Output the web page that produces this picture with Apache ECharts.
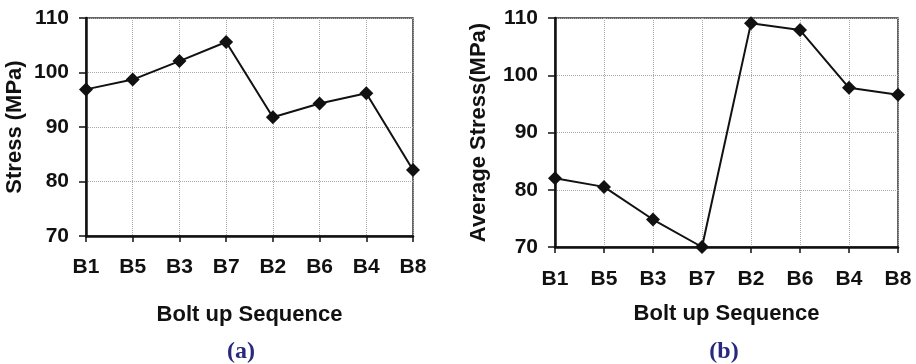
<!DOCTYPE html>
<html>
<head>
<meta charset="utf-8">
<script src="https://cdn.jsdelivr.net/npm/echarts@6/dist/echarts.min.js"></script>
<style>
  html, body { margin: 0; padding: 0; background: #fff; }
  #chart { width: 916px; height: 364px; }
</style>
</head>
<body>
<div id="chart"></div>
<script>
// bolt up order, same for both panels
const sequence = ["B1", "B5", "B3", "B7", "B2", "B6", "B4", "B8"];
// (a) stress per bolt
const stressA = [96.9, 98.7, 102.1, 105.6, 91.8, 94.3, 96.2, 82.1];
// (b) average stress
const stressB = [82.0, 80.5, 74.8, 70.0, 109.1, 107.9, 97.8, 96.6];
const yTicks = { min: 70, max: 110, interval: 10 };

const font = "'Liberation Sans', Arial, sans-serif";

function xAxisFor(gridIndex, labelGap, gap) {
  return {
    type: "category",
    gridIndex: gridIndex,
    data: sequence,
    boundaryGap: false,
    name: "Bolt up Sequence",
    nameLocation: "middle",
    nameGap: gap,
    nameTextStyle: { fontFamily: font, fontWeight: "bold", fontSize: 22, color: "#111" },
    axisLine: { lineStyle: { color: "#111", width: 2.5 } },
    axisTick: { show: true, length: 6, alignWithLabel: true, lineStyle: { color: "#111", width: 1.5 } },
    axisLabel: { margin: labelGap, fontFamily: font, fontWeight: "bold", fontSize: 21, color: "#111" },
    splitLine: { show: true, lineStyle: { color: "#aaa", type: "dotted", width: 1 } }
  };
}

function yAxisFor(gridIndex, title, gap) {
  return {
    type: "value",
    gridIndex: gridIndex,
    min: yTicks.min,
    max: yTicks.max,
    interval: yTicks.interval,
    name: title,
    nameLocation: "middle",
    nameGap: gap,
    nameTextStyle: { fontFamily: font, fontWeight: "bold", fontSize: 22, color: "#111" },
    axisLine: { show: true, lineStyle: { color: "#111", width: 2.5 } },
    axisTick: { show: true, length: 7, lineStyle: { color: "#111", width: 1.5 } },
    axisLabel: { margin: 17, fontFamily: font, fontWeight: "bold", fontSize: 21, color: "#111" },
    splitLine: { show: true, lineStyle: { color: "#aaa", type: "dotted", width: 1 } }
  };
}

function lineSeries(idx, values) {
  return {
    type: "line",
    xAxisIndex: idx,
    yAxisIndex: idx,
    data: values,
    symbol: "diamond",
    symbolSize: 14,
    itemStyle: { color: "#111" },
    lineStyle: { color: "#111", width: 2 },
    animation: false
  };
}

const chart = echarts.init(document.getElementById("chart"));
chart.setOption({
  backgroundColor: "#fff",
  animation: false,
  grid: [
    { left: 86, right: 503, top: 18, bottom: 128, show: true, borderColor: "#333", borderWidth: 1.5 },
    { left: 555, right: 18, top: 18, bottom: 117, show: true, borderColor: "#333", borderWidth: 1.5 }
  ],
  title: [
    { text: "(a)", left: 236, top: 335, textAlign: "center",
      textStyle: { fontFamily: "'Liberation Serif', 'Times New Roman', serif", fontWeight: "bold", fontSize: 24, color: "#27297c" } },
    { text: "(b)", left: 719, top: 335, textAlign: "center",
      textStyle: { fontFamily: "'Liberation Serif', 'Times New Roman', serif", fontWeight: "bold", fontSize: 24, color: "#27297c" } }
  ],
  xAxis: [xAxisFor(0, 21, 68), xAxisFor(1, 22, 56)],
  yAxis: [yAxisFor(0, "Stress (MPa)", 60), yAxisFor(1, "Average Stress(MPa)", 65)],
  series: [lineSeries(0, stressA), lineSeries(1, stressB)]
});
</script>
</body>
</html>
